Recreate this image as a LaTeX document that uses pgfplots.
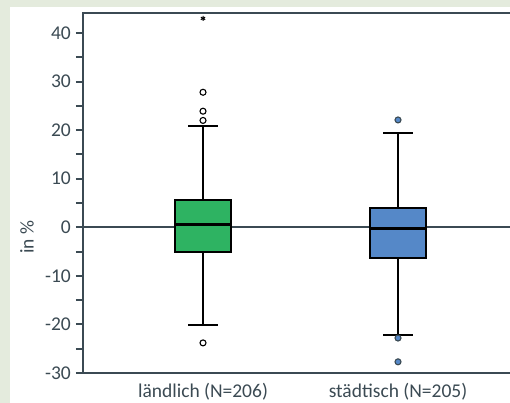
\documentclass[border=0pt]{standalone}
\usepackage{fontspec}
\setmainfont{Carlito}
\usepackage{pgfplots}
\pgfplotsset{compat=1.18}
\usepgfplotslibrary{statistics}
\definecolor{bgc}{HTML}{E4EBDD}
\definecolor{framec}{HTML}{3B4A53}
\definecolor{boxgreen}{HTML}{2EB362}
\definecolor{boxblue}{HTML}{5588C8}
\begin{document}
\begin{tikzpicture}[x=1pt,y=1pt]
\clip (0,0) rectangle (510,403);
\fill[bgc] (0,0) rectangle (510,403);
\fill[white] (10,0) rectangle (510,396);
\begin{axis}[
  at={(83pt,30pt)}, anchor=south west,
  scale only axis, width=432pt, height=360pt,
  xmin=0.3846, xmax=2.6, ymin=-30, ymax=44.12,
  boxplot/draw direction=y,
  axis line style={draw=framec, line width=2pt},
  xtick={1,2},
  xticklabels={ländlich (N=206), städtisch (N=205)},
  xtick style={draw=none},
  xticklabel style={inner sep=3.5pt, text=framec, font=\fontsize{19.5}{23}\selectfont},
  ytick={-30,-20,...,40},
  yticklabels={-30,-20,-10,0,10,20,30,40},
  minor ytick={-25,-15,...,35},
  ytick pos=left,
  tick align=outside,
  major tick length=7pt, minor tick length=7pt,
  ytick style={draw=framec, line width=2pt},
  minor tick style={draw=framec, line width=2pt},
  yticklabel style={inner sep=5pt, text=framec, font=\fontsize{19.5}{23}\selectfont},
  clip=true,
]
\addplot[framec, line width=2pt, forget plot] coordinates {(0.3,0) (2.7,0)};
\addplot[boxplot prepared={draw position=1, lower whisker=-20.2, lower quartile=-5.1, median=0.6, upper quartile=5.6, upper whisker=20.8, box extend=0.292, whisker extend=0.149,
    every box/.style={draw=black, fill=boxgreen, line width=2pt},
    every median/.style={draw=black, line width=3pt},
    every whisker/.style={draw=black, line width=2pt}},
  draw=black, line width=2pt, mark=*, mark size=3pt, mark options={fill=white, draw=black, line width=1.1pt}]
  coordinates {(1,-23.8) (1,22.0) (1,23.9) (1,27.8)};
\addplot[boxplot prepared={draw position=2, lower whisker=-22.2, lower quartile=-6.3, median=-0.35, upper quartile=4.0, upper whisker=19.5, box extend=0.292, whisker extend=0.149,
    every box/.style={draw=black, fill=boxblue, line width=2pt},
    every median/.style={draw=black, line width=3pt},
    every whisker/.style={draw=black, line width=2pt}},
  draw=black, line width=2pt, mark=*, mark size=3pt, mark options={fill=boxblue, draw=framec, line width=1.1pt}]
  coordinates {(2,-27.7) (2,-22.8) (2,22.1)};
\addplot[only marks, mark=asterisk, mark size=2.5pt, black, line width=1pt] coordinates {(1,43)};
\end{axis}
\node[rotate=90, text=framec, font=\fontsize{19.5}{23}\selectfont] at (27,166) {in \%};
\end{tikzpicture}
\end{document}
